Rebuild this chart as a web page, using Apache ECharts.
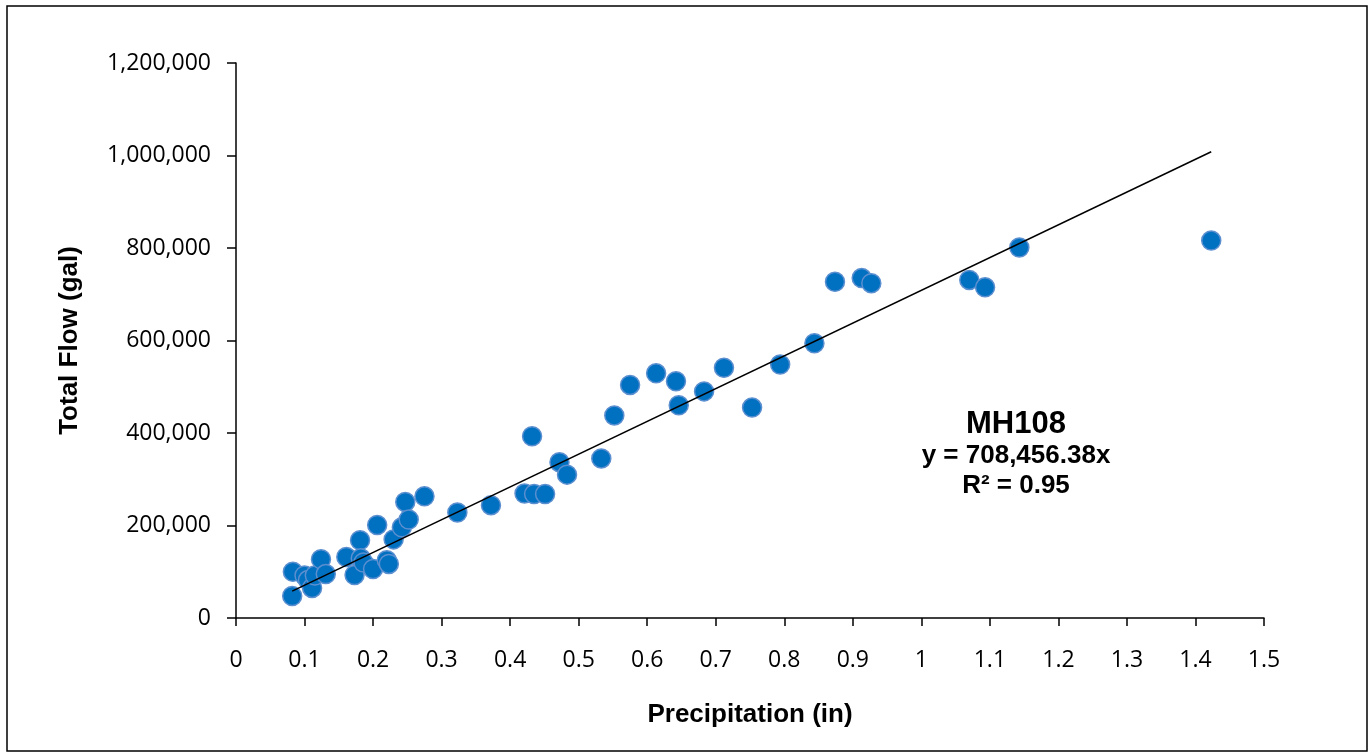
<!DOCTYPE html>
<html>
<head>
<meta charset="utf-8">
<script src="https://cdn.jsdelivr.net/npm/echarts@6/dist/echarts.min.js"></script>
<style>html,body{margin:0;padding:0;background:#fff;}#c{width:1369px;height:754px;}</style>
</head>
<body>
<div id="c"></div>
<script>
const precipitation = [0.082,0.083,0.100,0.105,0.111,0.115,0.124,0.131,0.161,0.173,0.181,0.182,0.186,0.200,0.206,0.220,0.223,0.230,0.242,0.247,0.252,0.275,0.323,0.372,0.421,0.435,0.451,0.432,0.472,0.483,0.533,0.552,0.575,0.613,0.642,0.646,0.683,0.712,0.753,0.794,0.844,0.874,0.913,0.927,1.070,1.093,1.143,1.423];
const totalFlow = [47500,100000,92000,82000,65000,92000,127000,95000,132000,93000,168000,129000,120000,106000,201000,125000,117000,170000,196000,251000,213000,263000,228000,244000,269000,268000,268000,393000,337000,310000,345000,438000,504000,529000,512000,460000,490000,541000,455000,548000,594000,727000,735000,724000,731000,715000,801000,816000];
const slope = 708456.38;
const yTicks = [0,200000,400000,600000,800000,1000000,1200000];
const xTicks = [0,0.1,0.2,0.3,0.4,0.5,0.6,0.7,0.8,0.9,1,1.1,1.2,1.3,1.4,1.5];
const labelLines = ['MH108','y = 708,456.38x','R² = 0.95'];

const points = precipitation.map((p,i)=>[p,totalFlow[i]]);
const xMin = Math.min(...precipitation), xMax = Math.max(...precipitation);
const trend = [[xMin, slope*xMin],[xMax, slope*xMax]];

const chart = echarts.init(document.getElementById('c'));
const tickFont = {fontFamily:'Open Sans, Liberation Sans, sans-serif', fontSize:23, color:'#000'};
const boldFont = {fontFamily:'Liberation Sans, Arial',fontWeight:'bold',color:'#000'};
chart.setOption({
  animation:false,
  grid:{left:236,right:105,top:63,bottom:136},
  xAxis:{type:'value',min:xTicks[0],max:xTicks[xTicks.length-1],interval:0.1,
    name:'Precipitation (in)',nameLocation:'middle',nameGap:84,
    nameTextStyle:Object.assign({fontSize:26},boldFont),
    axisLine:{show:true,onZero:false,lineStyle:{color:'#000',width:1.5}},
    axisTick:{show:true,length:8,lineStyle:{color:'#000',width:1.5}},
    axisLabel:Object.assign({margin:31,formatter:v=>String(+v.toFixed(1))},tickFont),
    splitLine:{show:false}},
  yAxis:{type:'value',min:yTicks[0],max:yTicks[yTicks.length-1],interval:200000,
    name:'Total Flow (gal)',nameLocation:'middle',nameGap:153,nameRotate:90,
    nameTextStyle:Object.assign({fontSize:26},boldFont),
    axisLine:{show:true,lineStyle:{color:'#000',width:1.5}},
    axisTick:{show:true,length:9,lineStyle:{color:'#000',width:1.5}},
    axisLabel:Object.assign({margin:25,formatter:v=>v.toLocaleString('en-US')},tickFont),
    splitLine:{show:false}},
  series:[
    {type:'line',data:trend,symbol:'none',lineStyle:{color:'#000',width:1.5},z:3,silent:true},
    {type:'scatter',data:points,symbol:'circle',symbolSize:19,
      itemStyle:{color:'#0070C0',borderColor:'#5b8fd0',borderWidth:1.5,opacity:1},z:2}
  ],
  graphic:[
    {type:'rect',shape:{x:7,y:6,width:1360,height:745},style:{fill:'none',stroke:'#000',lineWidth:1.5},z:-1},
    {type:'text',x:1016,y:424,style:Object.assign({text:labelLines[0],fontSize:31,fill:'#000',align:'center',verticalAlign:'middle'},boldFont)},
    {type:'text',x:1016,y:456,style:Object.assign({text:labelLines[1],fontSize:26,fill:'#000',align:'center',verticalAlign:'middle'},boldFont)},
    {type:'text',x:1016,y:486,style:Object.assign({text:labelLines[2],fontSize:26,fill:'#000',align:'center',verticalAlign:'middle'},boldFont)}
  ]
});
</script>
</body>
</html>
